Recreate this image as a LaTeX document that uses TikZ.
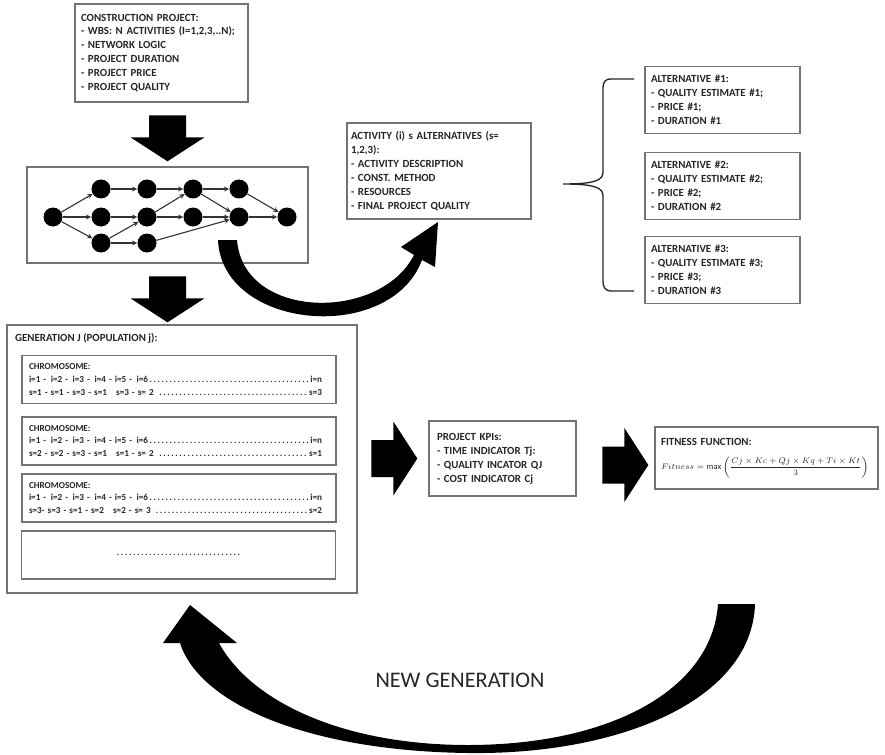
\documentclass[tikz,border=0pt]{standalone}
\usepackage{fontspec}
\setmainfont{Carlito}
\usetikzlibrary{arrows.meta, calc}
\newdimen\pxu
\pxu=0.3mm
\newcommand{\chrline}[2]{\makebox[293\pxu][l]{#1\dotfill#2}}

\tikzset{
  box/.style={rectangle, draw=black!55, line width=0.4mm, fill=white,
    align=left, inner sep=0pt, text=black!85,
    font=\fontsize{9.3}{11.9}\selectfont\bfseries},
  altbox/.style={box, minimum width=155\pxu, minimum height=67\pxu,
    text width=143\pxu},
  chrbox/.style={box, minimum width=314\pxu, minimum height=48\pxu,
    text width=300\pxu, font=\fontsize{7.8}{11}\selectfont\bfseries},
  ev/.style={circle, fill=black, minimum size=19\pxu, inner sep=0pt},
  arr/.style={-{Stealth[length=1.6mm, width=1.5mm]}, line width=0.33mm,
    draw=black!80},
  brc/.style={line width=0.4mm, draw=black!85},
  blockarr/.pic={
    \fill[black] (0,0) -- (-24,-37) -- (-24,-18.5) -- (-46,-18.5)
      -- (-46,18.5) -- (-24,18.5) -- (-24,37) -- cycle;},
}

\begin{document}
\begin{tikzpicture}[x=0.3mm, y=-0.3mm]
  \useasboundingbox (0,0) rectangle (885,755);

  % ---- Construction project ----
  \node[box, minimum width=173\pxu, minimum height=98\pxu, text width=161\pxu]
        (proj) at (161.5,53)
        {CONSTRUCTION PROJECT:\\- WBS: N ACTIVITIES (I=1,2,3,..N);\\
         - NETWORK LOGIC\\- PROJECT DURATION\\- PROJECT PRICE\\
         - PROJECT QUALITY};

  % ---- Network ----
  \node[box, minimum width=281\pxu, minimum height=96\pxu] (net) at (167.5,215) {};
  \node[ev] (n0) at (53,217) {};
  \node[ev] (a1) at (101,189) {};
  \node[ev] (a2) at (101,217) {};
  \node[ev] (a3) at (101,243) {};
  \node[ev] (b1) at (147,189) {};
  \node[ev] (b2) at (147,217) {};
  \node[ev] (b3) at (147,243) {};
  \node[ev] (c1) at (193,189) {};
  \node[ev] (c2) at (193,217) {};
  \node[ev] (d1) at (239,189) {};
  \node[ev] (d2) at (239,217) {};
  \node[ev] (n9) at (287,217) {};

  \draw[arr] (n0) -- (a1);
  \draw[arr] (n0) -- (a2);
  \draw[arr] (n0) -- (a3);
  \draw[arr] (a1) -- (b1);
  \draw[arr] (a2) -- (b2);
  \draw[arr] (a3) -- (b2);
  \draw[arr] (a3) -- (b3);
  \draw[arr] (b1) -- (c1);
  \draw[arr] (b2) -- (c1);
  \draw[arr] (b2) -- (c2);
  \draw[arr] (b3) -- (d2);
  \draw[arr] (c1) -- (d1);
  \draw[arr] (c1) -- (d2);
  \draw[arr] (c2) -- (d2);
  \draw[arr] (d1) -- (n9);
  \draw[arr] (d2) -- (n9);

  % ---- Curved arrow to alternatives ----
  \fill[black] (218,240) .. controls (222,330) and (390,345) .. (422,260)
    -- (435,267) -- (438,222) -- (401,247) -- (414,255)
    .. controls (380,322) and (243,320) .. (237,240) -- cycle;

  % ---- Activity alternatives ----
  \node[box, minimum width=184\pxu, minimum height=96\pxu, text width=176\pxu]
        (actv) at (439,171)
        {ACTIVITY (i) s ALTERNATIVES (s=\\1,2,3):\\- ACTIVITY DESCRIPTION\\
         - CONST. METHOD\\- RESOURCES\\- FINAL PROJECT QUALITY};

  \node[altbox] (alt1) at (722.5,100)
        {ALTERNATIVE \#1:\\- QUALITY ESTIMATE \#1;\\- PRICE \#1;\\- DURATION \#1};
  \node[altbox] (alt2) at (722.5,186)
        {ALTERNATIVE \#2:\\- QUALITY ESTIMATE \#2;\\- PRICE \#2;\\- DURATION \#2};
  \node[altbox] (alt3) at (722.5,270)
        {ALTERNATIVE \#3:\\- QUALITY ESTIMATE \#3;\\- PRICE \#3;\\- DURATION \#3};

  % ---- Brace ----
  \draw[brc] (634,79) -- (612,79) .. controls (604,79) and (603,82) .. (603,90)
    -- (603,172) .. controls (603,180) and (596,184) .. (563,184)
    .. controls (596,184) and (603,188) .. (603,196)
    -- (603,280) .. controls (603,288) and (605,291) .. (612,291) -- (634,291);

  % ---- Generation j ----
  \node[box, minimum width=350\pxu, minimum height=268\pxu] (gen) at (182,459) {};
  \node[font=\fontsize{9.3}{11.9}\selectfont\bfseries, text=black!85,
        anchor=base west, inner sep=0pt] (gentitle) at (15,341)
        {GENERATION J (POPULATION j):};

  \node[chrbox] (chr1) at (179,379.5)
        {CHROMOSOME:\\
         \chrline{i=1 - \,i=2 - \,i=3 - \,i=4 - i=5 - \,i=6}{i=n}\\
         \chrline{s=1 - s=1 - s=3 - s=1\ \ \ s=3 - s= 2 }{s=3}};
  \node[chrbox] (chr2) at (179,441)
        {CHROMOSOME:\\
         \chrline{i=1 - \,i=2 - \,i=3 - \,i=4 - i=5 - \,i=6}{i=n}\\
         \chrline{s=2 - s=2 - s=3 - s=1\ \ \ s=1 - s= 2 }{s=1}};
  \node[chrbox] (chr3) at (179,498)
        {CHROMOSOME:\\
         \chrline{i=1 - \,i=2 - \,i=3 - \,i=4 - i=5 - \,i=6}{i=n}\\
         \chrline{s=3- s=3 - s=1 - s=2\ \ \ s=2 - s= 3 }{s=2}};
  \node[chrbox, align=center] (chr4) at (178.5,555) {\makebox[128\pxu]{\dotfill}};

  % ---- KPIs and fitness ----
  \node[box, minimum width=147\pxu, minimum height=75\pxu, text width=131\pxu]
        (kpi) at (502.5,458.5)
        {PROJECT KPIs:\\- TIME INDICATOR Tj:\\- QUALITY INCATOR QJ\\
         - COST INDICATOR Cj};
  \node[box, minimum width=223\pxu, minimum height=62\pxu, text width=211\pxu]
        (fit) at (766.5,458)
        {FITNESS FUNCTION:\\[9pt]{\fontsize{7.3}{10}\selectfont\mdseries
         \mbox{$\displaystyle Fitness=\max\left(\frac{Cj\times Kc+Qj\times Kq
         +Ti\times Kt}{3}\right)$}}};

  % ---- Block arrows ----
  \pic[rotate=-90] at ([yshift=1.5mm]net.north) {blockarr};
  \pic[rotate=-90] at ($(net.south |- gen.north)+(0,-2)$) {blockarr};
  \pic at ($(kpi.west)+(-11,0)$) {blockarr};
  \pic at ($(fit.west)+(-6,7)$) {blockarr};

  % ---- New generation loop ----
  \fill[black] (755,604) .. controls (752,700) and (620,755) .. (468,753)
    .. controls (310,751) and (200,705) .. (180,643)
    -- (163,643) -- (190,605) -- (237,643) -- (219,643)
    .. controls (250,700) and (340,745) .. (468,745)
    .. controls (610,745) and (712,690) .. (718,604) -- cycle;
  \node[font=\fontsize{19}{22}\selectfont, text=black!85] (newgen) at (460,680)
        {NEW GENERATION};
\end{tikzpicture}
\end{document}
